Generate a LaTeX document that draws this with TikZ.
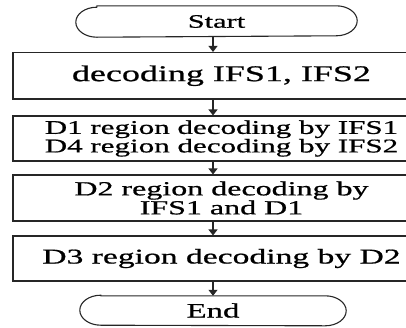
\documentclass[tikz,border=0pt]{standalone}
\usepackage{fontspec}
\setmainfont{Liberation Serif}[FakeStretch=1.6, FakeBold=0.8]
\usetikzlibrary{arrows.meta}

\begin{document}
\begin{tikzpicture}[x=1pt,y=-1pt,
  outline/.style={line width=1.1pt, draw=black!85},
  stepbox/.style={outline, rectangle, align=center, inner sep=0pt},
  term/.style={inner sep=0pt},
  arr/.style={outline, -{Triangle[width=9pt,length=6pt]}}]
\useasboundingbox (0,0) rectangle (406,327);
\clip (0,0) rectangle (406,327);

% vertical axis of the flow arrows
\coordinate (axis) at (213,0);

% terminals
\node[term, minimum width=281pt, minimum height=31pt,
      font=\fontsize{19}{19}\selectfont] (start) at (216.5,21.5) {Start};
\node[term, minimum width=266pt, minimum height=29pt,
      font=\fontsize{20.5}{20}\selectfont] (end) at (213,310.5) {End};

\foreach \t in {start,end}{
  \draw[outline] ([xshift=21pt]\t.north west) -- ([xshift=-21pt]\t.north east)
    arc[start angle=90, end angle=-90, x radius=21pt, y radius=15pt]
    -- ([xshift=21pt]\t.south west)
    arc[start angle=270, end angle=90, x radius=21pt, y radius=15pt] -- cycle;
}

% process boxes (they run past the right edge)
\node[stepbox, minimum width=417pt, minimum height=46.5pt,
      font=\fontsize{22.5}{22}\selectfont] (b1) at (221.5,75.75)
      {decoding IFS1, IFS2};
\node[stepbox, minimum width=417pt, minimum height=45pt,
      font=\fontsize{19.4}{18.5}\selectfont] (b2) at (221.5,138.5)
      {D1 region decoding by IFS1\\D4 region decoding by IFS2};
\node[stepbox, minimum width=417pt, minimum height=46pt,
      font=\fontsize{20}{19}\selectfont] (b3) at (221.5,198)
      {D2 region decoding by\\IFS1 and D1};
\node[stepbox, minimum width=417pt, minimum height=45pt,
      font=\fontsize{21}{20}\selectfont] (b4) at (221.5,258.5)
      {D3 region decoding by D2};

% flow arrows
\draw[arr] (start.south -| axis) -- (b1.north -| axis);
\draw[arr] (b1.south -| axis) -- (b2.north -| axis);
\draw[arr] (b2.south -| axis) -- (b3.north -| axis);
\draw[arr] (b3.south -| axis) -- (b4.north -| axis);
\draw[arr] (b4.south -| axis) -- (end.north -| axis);
\end{tikzpicture}
\end{document}
